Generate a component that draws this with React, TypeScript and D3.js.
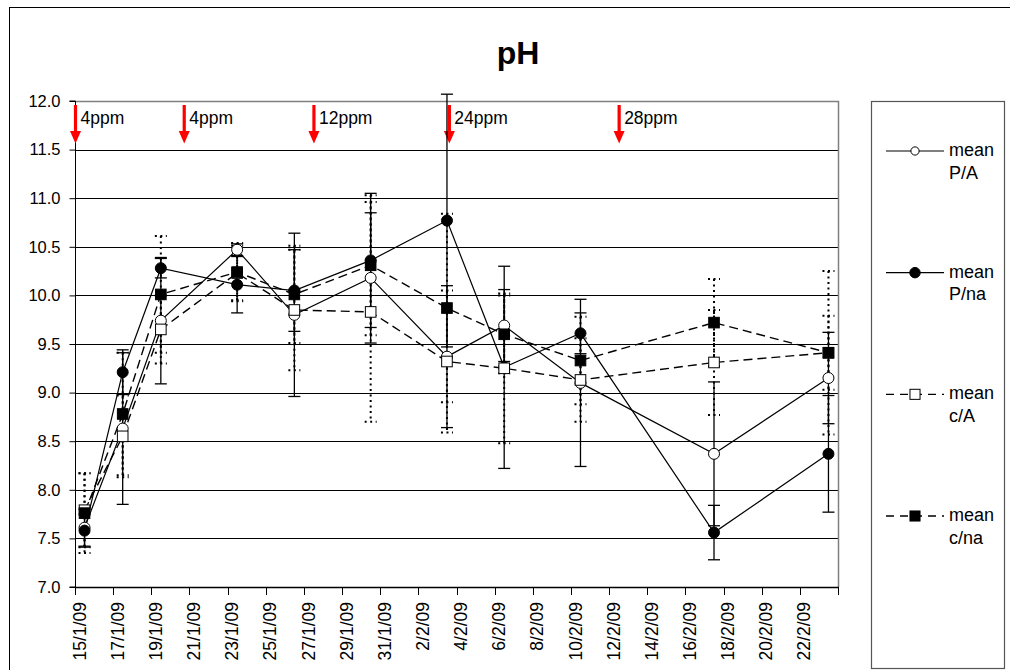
import { useRef, useEffect } from "react";
import * as d3 from "d3";

// sampling dates
const sampleDates = [
  "2009-01-15", "2009-01-17", "2009-01-19", "2009-01-23", "2009-01-26", "2009-01-30",
  "2009-02-03", "2009-02-06", "2009-02-10", "2009-02-17", "2009-02-23",
];

// mean pH and error bar size per series
const meanPA = [7.61, 8.63, 9.74, 10.47, 9.8, 10.18, 9.37, 9.69, 9.1, 8.37, 9.15];
const errPA = [0.19, 0.78, 0.65, 0.06, 0.84, 0.67, 0.73, 0.37, 0.86, 0.74, 0.47];
const meanPna = [7.58, 9.21, 10.28, 10.11, 10.05, 10.36, 10.77, 9.26, 9.61, 7.56, 8.37];
const errPna = [0.17, 0.23, 0.1, 0.29, 0.42, 0.69, 1.3, 1.04, 0.21, 0.28, 0.6];
const meanCA = [7.79, 8.55, 9.65, 10.23, 9.85, 9.83, 9.32, 9.25, 9.13, 9.31, 9.41];
const errCA = [0.38, 0.42, 0.35, 0.28, 0.62, 1.13, 0.73, 0.77, 0.43, 0.54, 0.84];
const meanCna = [7.76, 8.78, 10.01, 10.24, 10.01, 10.31, 9.87, 9.6, 9.33, 9.72, 9.41];
const errCna = [0.41, 0.63, 0.6, 0.3, 0.5, 0.72, 0.97, 0.4, 0.45, 0.45, 0.38];

const seriesLabels = ["P/A", "P/na", "c/A", "c/na"];

// dosing arrows (days after 15/1/09) and their labels
const arrowDays = [0, 5.7, 12.5, 19.6, 28.5];
const arrowLabels = ["4ppm", "4ppm", "12ppm", "24ppm", "28ppm"];

const yTicks = [7.0, 7.5, 8.0, 8.5, 9.0, 9.5, 10.0, 10.5, 11.0, 11.5, 12.0];

const FONT = "'Liberation Sans', Arial, sans-serif";

export default function App() {
  const ref = useRef<SVGSVGElement>(null);

  useEffect(() => {
    const svg = d3.select(ref.current);
    svg.selectAll("*").remove();

    const left = 75, right = 838, top = 101, bottom = 587;
    const parse = d3.timeParse("%Y-%m-%d");
    const start = parse("2009-01-15") as Date;
    const end = parse("2009-02-24") as Date;
    const DAY = 86400000;

    const x = d3.scaleTime().domain([start, end]).range([left, right]);
    const y = d3.scaleLinear().domain([7, 12]).range([bottom, top]);
    const px = (s: string) => x(new Date((parse(s) as Date).getTime() + DAY / 2));

    // chart border
    svg.append("rect")
      .attr("x", 9.5).attr("y", 7.5).attr("width", 1010).attr("height", 700)
      .attr("fill", "#fff").attr("stroke", "#000").attr("stroke-width", 1);

    // title
    svg.append("text")
      .attr("x", 518).attr("y", 64).attr("text-anchor", "middle")
      .attr("font-family", FONT).attr("font-size", 32).attr("font-weight", "bold")
      .text("pH");

    // gridlines
    svg.append("g").selectAll("line")
      .data(yTicks.filter((t) => t < 12 && t > 7))
      .join("line")
      .attr("x1", left).attr("x2", right)
      .attr("y1", (d) => Math.round(y(d)) + 0.5).attr("y2", (d) => Math.round(y(d)) + 0.5)
      .attr("stroke", "#000").attr("stroke-width", 1);

    // plot border top/right (gray)
    svg.append("path")
      .attr("d", `M${left},${Math.round(y(12)) + 0.5}H${right + 0.5}V${bottom}`)
      .attr("fill", "none").attr("stroke", "#808080").attr("stroke-width", 1.5);

    // y axis
    const yAxis = d3.axisLeft(y).tickValues(yTicks).tickFormat(d3.format(".1f"))
      .tickSize(6).tickPadding(9);
    const gy = svg.append("g").attr("transform", `translate(${left + 0.5},0)`).call(yAxis);
    gy.selectAll("text").attr("font-family", FONT).attr("font-size", 16.5).attr("fill", "#000");
    gy.selectAll("line,path").attr("stroke", "#000");
    gy.select(".domain").attr("d", `M-6,${y(12)}H0V${y(7)}H-6`);

    // x axis
    const xTicks = d3.timeDay.range(start, d3.timeDay.offset(end, 1), 2);
    const fmt = d3.timeFormat("%-d/%-m/%y");
    const gx = svg.append("g");
    gx.append("line")
      .attr("x1", left).attr("x2", right + 1)
      .attr("y1", bottom + 0.5).attr("y2", bottom + 0.5)
      .attr("stroke", "#000").attr("stroke-width", 1.5);
    gx.selectAll("line.tick")
      .data(xTicks)
      .join("line")
      .attr("class", "tick")
      .attr("x1", (d) => Math.round(x(d)) + 0.5).attr("x2", (d) => Math.round(x(d)) + 0.5)
      .attr("y1", bottom).attr("y2", bottom + 8)
      .attr("stroke", "#000");
    gx.selectAll("text")
      .data(xTicks.filter((d) => d < end))
      .join("text")
      .attr("transform", (d) => `translate(${x(d) + 4.5},602) rotate(-90)`)
      .attr("dy", "0.35em")
      .attr("text-anchor", "end")
      .attr("font-family", FONT).attr("font-size", 17.5)
      .text((d) => fmt(d));

    // arrows
    const ga = svg.append("g");
    arrowDays.forEach((d, i) => {
      const ax = x(new Date(start.getTime() + d * DAY)) + 0.5;
      ga.append("line")
        .attr("x1", ax).attr("x2", ax).attr("y1", 105).attr("y2", 133)
        .attr("stroke", "#ff0000").attr("stroke-width", 3.2);
      ga.append("path")
        .attr("d", `M${ax - 5.5},131L${ax + 5.5},131L${ax},143.5Z`)
        .attr("fill", "#ff0000");
      ga.append("text")
        .attr("x", ax + 5).attr("y", 123.5)
        .attr("font-family", FONT).attr("font-size", 17.5)
        .text(arrowLabels[i]);
    });

    const series = [
      { name: seriesLabels[0], mean: meanPA, err: errPA, marker: "circle", fill: "#fff", dashed: false },
      { name: seriesLabels[1], mean: meanPna, err: errPna, marker: "circle", fill: "#000", dashed: false },
      { name: seriesLabels[2], mean: meanCA, err: errCA, marker: "square", fill: "#fff", dashed: true },
      { name: seriesLabels[3], mean: meanCna, err: errCna, marker: "square", fill: "#000", dashed: true },
    ];

    const yClip = 12.07;
    // error bars
    const ge = svg.append("g");
    series.forEach((s) => {
      s.mean.forEach((m, i) => {
        const cx = px(sampleDates[i]);
        const hi = m + s.err[i];
        const lo = m - s.err[i];
        const style = (sel: any) =>
          sel.attr("stroke", "#000")
            .attr("stroke-width", s.dashed ? 2 : 1.3)
            .attr("stroke-dasharray", s.dashed ? "2,3.5" : null);
        ge.append("line")
          .attr("x1", cx).attr("x2", cx)
          .attr("y1", y(Math.min(hi, yClip))).attr("y2", y(lo))
          .call(style);
        const caps = hi > yClip ? [lo] : [hi, lo];
        caps.forEach((v) => {
          ge.append("line")
            .attr("x1", cx - 6).attr("x2", cx + 6)
            .attr("y1", y(v)).attr("y2", y(v))
            .call(style);
        });
      });
    });

    // lines
    const line = d3.line<number>()
      .x((_, i) => px(sampleDates[i]))
      .y((d) => y(d));
    series.forEach((s) => {
      svg.append("path")
        .attr("d", line(s.mean))
        .attr("fill", "none")
        .attr("stroke", "#000")
        .attr("stroke-width", s.dashed ? 1.4 : 1.2)
        .attr("stroke-dasharray", s.dashed ? "9,5" : null);
    });

    // markers
    const drawMarker = (g: any, s: any, cx: number, cy: number, scale = 1) => {
      if (s.marker === "circle") {
        g.append("circle")
          .attr("cx", cx).attr("cy", cy).attr("r", 5.5 * scale)
          .attr("fill", s.fill).attr("stroke", "#000").attr("stroke-width", 1);
      } else {
        const h = 5.3 * scale;
        g.append("rect")
          .attr("x", cx - h).attr("y", cy - h).attr("width", 2 * h).attr("height", 2 * h)
          .attr("fill", s.fill).attr("stroke", "#000").attr("stroke-width", 1);
      }
    };
    const gm = svg.append("g");
    series.forEach((s) => {
      s.mean.forEach((m, i) => drawMarker(gm, s, px(sampleDates[i]), y(m)));
    });

    // legend
    const gl = svg.append("g");
    gl.append("rect")
      .attr("x", 871.5).attr("y", 101.5).attr("width", 133).attr("height", 567)
      .attr("fill", "#fff").attr("stroke", "#555").attr("stroke-width", 1.2);
    const legendY = d3.scaleLinear().domain([0, 3]).range([151, 516]);
    series.forEach((s, i) => {
      const ly = legendY(i);
      gl.append("line")
        .attr("x1", 886).attr("x2", 944).attr("y1", ly).attr("y2", ly)
        .attr("stroke", "#000").attr("stroke-width", s.dashed ? 1.4 : 1.2)
        .attr("stroke-dasharray", s.dashed ? "8,6" : null);
      drawMarker(gl, s, 915, ly, s.fill === "#fff" && s.marker === "circle" ? 0.75 : 0.95);
      const t = gl.append("text")
        .attr("x", 949).attr("y", ly + 5)
        .attr("font-family", FONT).attr("font-size", 18);
      t.append("tspan").attr("x", 949).text("mean");
      t.append("tspan").attr("x", 949).attr("dy", 22.5).text(s.name);
    });
  }, []);

  return (
    <svg
      ref={ref}
      width={1010}
      height={670}
      style={{ position: "absolute", left: 0, top: 0, background: "#fff" }}
    />
  );
}
